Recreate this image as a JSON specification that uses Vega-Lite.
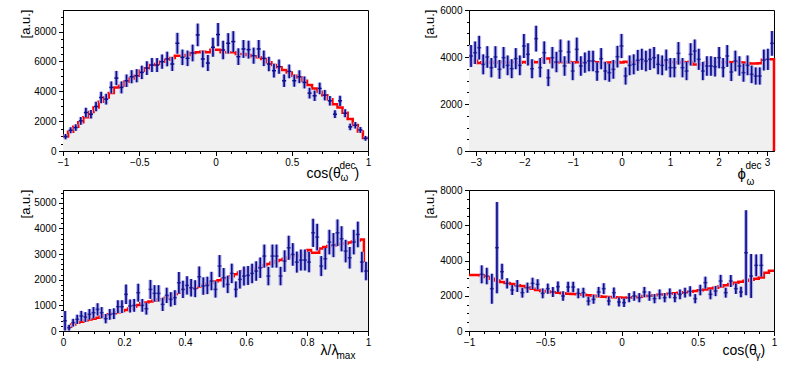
{
"$schema":"https://vega.github.io/schema/vega-lite/v6.json",
"autosize":{"type":"pad"},
"padding":{"left":18,"top":4,"right":5,"bottom":5},
"background":"white",
"config":{"view":{"stroke":"#000","strokeWidth":1},
"axis":{"labelFont":"Liberation Sans","labelFontSize":10,"labelColor":"#000","titleFont":"Liberation Sans","titleFontWeight":"normal","titleColor":"#000","tickColor":"#000","domainColor":"#000","grid":false,"labelFlush":false,"labelOverlap":false,"zindex":1,"tickWidth":1,"domainWidth":1}},
"datasets":{
"h1":[{"e":-1,"h":980},{"e":-0.96667,"h":1290},{"e":-0.93333,"h":1620},{"e":-0.9,"h":1930},{"e":-0.86667,"h":2260},{"e":-0.83333,"h":2620},{"e":-0.8,"h":2915},{"e":-0.76667,"h":3295},{"e":-0.73333,"h":3587},{"e":-0.7,"h":3880},{"e":-0.66667,"h":4260},{"e":-0.63333,"h":4372},{"e":-0.6,"h":4641},{"e":-0.56667,"h":4865},{"e":-0.53333,"h":5045},{"e":-0.5,"h":5381},{"e":-0.46667,"h":5538},{"e":-0.43333,"h":5762},{"e":-0.4,"h":5830},{"e":-0.36667,"h":5986},{"e":-0.33333,"h":6121},{"e":-0.3,"h":6233},{"e":-0.26667,"h":6390},{"e":-0.23333,"h":6390},{"e":-0.2,"h":6435},{"e":-0.16667,"h":6570},{"e":-0.13333,"h":6614},{"e":-0.1,"h":6659},{"e":-0.06667,"h":6614},{"e":-0.03333,"h":6794},{"e":0,"h":6794},{"e":0.03333,"h":6614},{"e":0.06667,"h":6614},{"e":0.1,"h":6614},{"e":0.13333,"h":6502},{"e":0.16667,"h":6502},{"e":0.2,"h":6435},{"e":0.23333,"h":6345},{"e":0.26667,"h":6278},{"e":0.3,"h":6166},{"e":0.33333,"h":5942},{"e":0.36667,"h":5762},{"e":0.4,"h":5605},{"e":0.43333,"h":5426},{"e":0.46667,"h":5269},{"e":0.5,"h":5045},{"e":0.53333,"h":4933},{"e":0.56667,"h":4708},{"e":0.6,"h":4417},{"e":0.63333,"h":4193},{"e":0.66667,"h":3969},{"e":0.7,"h":3744},{"e":0.73333,"h":3475},{"e":0.76667,"h":3139},{"e":0.8,"h":2915},{"e":0.83333,"h":2560},{"e":0.86667,"h":2150},{"e":0.9,"h":1747},{"e":0.93333,"h":1300},{"e":0.96667,"h":870},{"e":1,"h":870}],
"p1":[{"x":-0.98333,"y":964,"s":180},{"x":-0.95,"y":1390,"s":200},{"x":-0.91667,"y":1570,"s":220},{"x":-0.88333,"y":2018,"s":260},{"x":-0.85,"y":2578,"s":320},{"x":-0.81667,"y":2466,"s":290},{"x":-0.78333,"y":2982,"s":320},{"x":-0.75,"y":3587,"s":380},{"x":-0.71667,"y":3475,"s":360},{"x":-0.68333,"y":4260,"s":400},{"x":-0.65,"y":4888,"s":480},{"x":-0.61667,"y":4260,"s":400},{"x":-0.58333,"y":4708,"s":420},{"x":-0.55,"y":4978,"s":440},{"x":-0.51667,"y":5045,"s":440},{"x":-0.48333,"y":5269,"s":450},{"x":-0.45,"y":5560,"s":460},{"x":-0.41667,"y":5762,"s":470},{"x":-0.38333,"y":5762,"s":470},{"x":-0.35,"y":5986,"s":480},{"x":-0.31667,"y":6166,"s":490},{"x":-0.28333,"y":5830,"s":470},{"x":-0.25,"y":7220,"s":700},{"x":-0.21667,"y":6278,"s":520},{"x":-0.18333,"y":6211,"s":520},{"x":-0.15,"y":6570,"s":560},{"x":-0.11667,"y":7780,"s":760},{"x":-0.08333,"y":6166,"s":560},{"x":-0.05,"y":5897,"s":540},{"x":-0.01667,"y":6951,"s":640},{"x":0.01667,"y":7803,"s":780},{"x":0.05,"y":6771,"s":620},{"x":0.08333,"y":7220,"s":680},{"x":0.11667,"y":7332,"s":700},{"x":0.15,"y":6323,"s":560},{"x":0.18333,"y":6839,"s":600},{"x":0.21667,"y":6794,"s":600},{"x":0.25,"y":6390,"s":540},{"x":0.28333,"y":6839,"s":600},{"x":0.31667,"y":6211,"s":520},{"x":0.35,"y":5830,"s":480},{"x":0.38333,"y":5381,"s":460},{"x":0.41667,"y":5650,"s":480},{"x":0.45,"y":4708,"s":420},{"x":0.48333,"y":5336,"s":460},{"x":0.51667,"y":4708,"s":400},{"x":0.55,"y":4978,"s":430},{"x":0.58333,"y":4596,"s":400},{"x":0.61667,"y":3879,"s":360},{"x":0.65,"y":3700,"s":350},{"x":0.68333,"y":4193,"s":390},{"x":0.71667,"y":3744,"s":350},{"x":0.75,"y":3363,"s":320},{"x":0.78333,"y":2466,"s":260},{"x":0.81667,"y":3363,"s":340},{"x":0.85,"y":2534,"s":270},{"x":0.88333,"y":1614,"s":220},{"x":0.91667,"y":1726,"s":220},{"x":0.95,"y":1413,"s":200},{"x":0.98333,"y":850,"s":160}],
"h2":[{"e":-3.1416,"h":3760},{"e":-3.0578,"h":3860},{"e":-2.974,"h":3740},{"e":-2.8903,"h":3780},{"e":-2.8065,"h":3770},{"e":-2.7227,"h":3790},{"e":-2.6389,"h":3760},{"e":-2.5552,"h":3780},{"e":-2.4714,"h":3800},{"e":-2.3876,"h":3770},{"e":-2.3038,"h":3790},{"e":-2.2201,"h":3780},{"e":-2.1363,"h":3760},{"e":-2.0525,"h":3790},{"e":-1.9687,"h":3770},{"e":-1.885,"h":3800},{"e":-1.8012,"h":3780},{"e":-1.7174,"h":3790},{"e":-1.6336,"h":3940},{"e":-1.5499,"h":3940},{"e":-1.4661,"h":3780},{"e":-1.3823,"h":3770},{"e":-1.2985,"h":3790},{"e":-1.2148,"h":3780},{"e":-1.131,"h":3790},{"e":-1.0472,"h":3770},{"e":-0.9634,"h":3780},{"e":-0.8796,"h":3790},{"e":-0.7959,"h":3760},{"e":-0.7121,"h":3780},{"e":-0.6283,"h":3790},{"e":-0.5445,"h":3780},{"e":-0.4608,"h":3740},{"e":-0.377,"h":3750},{"e":-0.2932,"h":3770},{"e":-0.2094,"h":3780},{"e":-0.1257,"h":3790},{"e":-0.0419,"h":3770},{"e":0.0419,"h":3800},{"e":0.1257,"h":3780},{"e":0.2094,"h":3790},{"e":0.2932,"h":3780},{"e":0.377,"h":3790},{"e":0.4608,"h":3780},{"e":0.5445,"h":3770},{"e":0.6283,"h":3790},{"e":0.7121,"h":3780},{"e":0.7959,"h":3790},{"e":0.8796,"h":3780},{"e":0.9634,"h":3790},{"e":1.0472,"h":3780},{"e":1.131,"h":3770},{"e":1.2148,"h":3790},{"e":1.2985,"h":3780},{"e":1.3823,"h":3800},{"e":1.4661,"h":3680},{"e":1.5499,"h":3680},{"e":1.6336,"h":3700},{"e":1.7174,"h":3760},{"e":1.8012,"h":3780},{"e":1.885,"h":3790},{"e":1.9687,"h":3780},{"e":2.0525,"h":3770},{"e":2.1363,"h":3790},{"e":2.2201,"h":3780},{"e":2.3038,"h":3790},{"e":2.3876,"h":3780},{"e":2.4714,"h":3770},{"e":2.5552,"h":3730},{"e":2.6389,"h":3720},{"e":2.7227,"h":3720},{"e":2.8065,"h":3730},{"e":2.8903,"h":3880},{"e":2.974,"h":3900},{"e":3.0578,"h":3900},{"e":3.1416,"h":3900},{"e":3.1416,"h":0}],
"p2":[{"x":-3.0997,"y":4043,"s":465},{"x":-3.0159,"y":4184,"s":480},{"x":-2.9322,"y":4397,"s":505},{"x":-2.8484,"y":3688,"s":425},{"x":-2.7646,"y":4000,"s":460},{"x":-2.6808,"y":3546,"s":410},{"x":-2.597,"y":4000,"s":460},{"x":-2.5133,"y":3475,"s":400},{"x":-2.4295,"y":3972,"s":455},{"x":-2.3457,"y":3645,"s":420},{"x":-2.2619,"y":3504,"s":405},{"x":-2.1782,"y":3929,"s":450},{"x":-2.0944,"y":3645,"s":420},{"x":-2.0106,"y":4468,"s":515},{"x":-1.9268,"y":4113,"s":475},{"x":-1.8431,"y":3504,"s":405},{"x":-1.7593,"y":4780,"s":550},{"x":-1.6755,"y":3546,"s":410},{"x":-1.5917,"y":4184,"s":480},{"x":-1.508,"y":3120,"s":360},{"x":-1.4242,"y":3972,"s":455},{"x":-1.3404,"y":3787,"s":435},{"x":-1.2566,"y":4255,"s":490},{"x":-1.1729,"y":3617,"s":415},{"x":-1.0891,"y":4213,"s":485},{"x":-1.0053,"y":3404,"s":390},{"x":-0.9215,"y":4326,"s":500},{"x":-0.8378,"y":3617,"s":415},{"x":-0.754,"y":3759,"s":430},{"x":-0.6702,"y":3830,"s":440},{"x":-0.5864,"y":3830,"s":440},{"x":-0.5027,"y":3376,"s":390},{"x":-0.4189,"y":3929,"s":450},{"x":-0.3351,"y":3404,"s":390},{"x":-0.2513,"y":3333,"s":385},{"x":-0.1676,"y":3475,"s":400},{"x":-0.0838,"y":4014,"s":460},{"x":0,"y":4468,"s":515},{"x":0.0838,"y":3191,"s":365},{"x":0.1676,"y":3645,"s":420},{"x":0.2513,"y":3688,"s":425},{"x":0.3351,"y":3858,"s":445},{"x":0.4189,"y":3901,"s":450},{"x":0.5027,"y":3830,"s":440},{"x":0.5864,"y":3901,"s":450},{"x":0.6702,"y":3972,"s":455},{"x":0.754,"y":3688,"s":425},{"x":0.8378,"y":3645,"s":420},{"x":0.9215,"y":3872,"s":445},{"x":1.0053,"y":3546,"s":410},{"x":1.0891,"y":3546,"s":410},{"x":1.1729,"y":4156,"s":480},{"x":1.2566,"y":3546,"s":410},{"x":1.3404,"y":3404,"s":390},{"x":1.4242,"y":4113,"s":475},{"x":1.508,"y":4255,"s":490},{"x":1.5917,"y":3901,"s":450},{"x":1.6755,"y":3404,"s":390},{"x":1.7593,"y":3617,"s":415},{"x":1.8431,"y":3617,"s":415},{"x":1.9268,"y":3589,"s":415},{"x":2.0106,"y":3972,"s":455},{"x":2.0944,"y":3546,"s":410},{"x":2.1782,"y":4043,"s":465},{"x":2.2619,"y":3362,"s":385},{"x":2.3457,"y":3830,"s":440},{"x":2.4295,"y":3617,"s":415},{"x":2.5133,"y":3333,"s":385},{"x":2.597,"y":3645,"s":420},{"x":2.6808,"y":3262,"s":375},{"x":2.7646,"y":3191,"s":365},{"x":2.8484,"y":3191,"s":365},{"x":2.9322,"y":3872,"s":445},{"x":3.0159,"y":3901,"s":450},{"x":3.0997,"y":4582,"s":525}],
"h3":[{"e":0,"h":90},{"e":0.01333,"h":170},{"e":0.02667,"h":250},{"e":0.04,"h":325},{"e":0.05333,"h":365},{"e":0.06667,"h":405},{"e":0.08,"h":445},{"e":0.09333,"h":480},{"e":0.10667,"h":520},{"e":0.12,"h":565},{"e":0.13333,"h":610},{"e":0.14667,"h":650},{"e":0.16,"h":690},{"e":0.17333,"h":735},{"e":0.18667,"h":780},{"e":0.2,"h":820},{"e":0.21333,"h":880},{"e":0.22667,"h":950},{"e":0.24,"h":1010},{"e":0.25333,"h":1078},{"e":0.26667,"h":1110},{"e":0.28,"h":1150},{"e":0.29333,"h":1190},{"e":0.30667,"h":1234},{"e":0.32,"h":1234},{"e":0.33333,"h":1300},{"e":0.34667,"h":1370},{"e":0.36,"h":1440},{"e":0.37333,"h":1494},{"e":0.38667,"h":1540},{"e":0.4,"h":1600},{"e":0.41333,"h":1650},{"e":0.42667,"h":1688},{"e":0.44,"h":1740},{"e":0.45333,"h":1790},{"e":0.46667,"h":1840},{"e":0.48,"h":1883},{"e":0.49333,"h":1930},{"e":0.50667,"h":1980},{"e":0.52,"h":2030},{"e":0.53333,"h":2078},{"e":0.54667,"h":2140},{"e":0.56,"h":2210},{"e":0.57333,"h":2280},{"e":0.58667,"h":2338},{"e":0.6,"h":2380},{"e":0.61333,"h":2420},{"e":0.62667,"h":2460},{"e":0.64,"h":2506},{"e":0.65333,"h":2560},{"e":0.66667,"h":2610},{"e":0.68,"h":2670},{"e":0.69333,"h":2727},{"e":0.70667,"h":2770},{"e":0.72,"h":2820},{"e":0.73333,"h":2870},{"e":0.74667,"h":2922},{"e":0.76,"h":2930},{"e":0.77333,"h":2940},{"e":0.78667,"h":2948},{"e":0.8,"h":3156},{"e":0.81333,"h":3052},{"e":0.82667,"h":3052},{"e":0.84,"h":3220},{"e":0.85333,"h":3280},{"e":0.86667,"h":3312},{"e":0.88,"h":3340},{"e":0.89333,"h":3370},{"e":0.90667,"h":3400},{"e":0.92,"h":3415},{"e":0.93333,"h":3450},{"e":0.94667,"h":3490},{"e":0.96,"h":3530},{"e":0.97333,"h":3571},{"e":0.98667,"h":2400},{"e":1,"h":2400}],
"p3":[{"x":0.00667,"y":400,"s":380},{"x":0.02,"y":130,"s":110},{"x":0.03333,"y":325,"s":150},{"x":0.04667,"y":455,"s":180},{"x":0.06,"y":585,"s":200},{"x":0.07333,"y":545,"s":190},{"x":0.08667,"y":650,"s":210},{"x":0.1,"y":714,"s":220},{"x":0.11333,"y":844,"s":240},{"x":0.12667,"y":714,"s":220},{"x":0.14,"y":480,"s":180},{"x":0.15333,"y":650,"s":210},{"x":0.16667,"y":675,"s":210},{"x":0.18,"y":948,"s":250},{"x":0.19333,"y":948,"s":250},{"x":0.20667,"y":1429,"s":380},{"x":0.22,"y":974,"s":250},{"x":0.23333,"y":1000,"s":250},{"x":0.24667,"y":1494,"s":350},{"x":0.26,"y":1000,"s":250},{"x":0.27333,"y":870,"s":230},{"x":0.28667,"y":1623,"s":370},{"x":0.3,"y":1468,"s":320},{"x":0.31333,"y":1468,"s":320},{"x":0.32667,"y":1039,"s":260},{"x":0.34,"y":1390,"s":300},{"x":0.35333,"y":1234,"s":280},{"x":0.36667,"y":1299,"s":290},{"x":0.38,"y":1883,"s":420},{"x":0.39333,"y":1623,"s":340},{"x":0.40667,"y":1779,"s":360},{"x":0.42,"y":1688,"s":340},{"x":0.43333,"y":1650,"s":330},{"x":0.44667,"y":2117,"s":400},{"x":0.46,"y":1753,"s":340},{"x":0.47333,"y":1779,"s":340},{"x":0.48667,"y":1948,"s":360},{"x":0.5,"y":1623,"s":320},{"x":0.51333,"y":2532,"s":430},{"x":0.52667,"y":2078,"s":380},{"x":0.54,"y":1818,"s":340},{"x":0.55333,"y":2247,"s":380},{"x":0.56667,"y":1623,"s":310},{"x":0.58,"y":2013,"s":360},{"x":0.59333,"y":2143,"s":370},{"x":0.60667,"y":2169,"s":370},{"x":0.62,"y":2247,"s":380},{"x":0.63333,"y":2338,"s":380},{"x":0.64667,"y":2468,"s":400},{"x":0.66,"y":2922,"s":450},{"x":0.67333,"y":2143,"s":360},{"x":0.68667,"y":2922,"s":450},{"x":0.7,"y":2922,"s":450},{"x":0.71333,"y":2143,"s":360},{"x":0.72667,"y":2727,"s":420},{"x":0.74,"y":3247,"s":470},{"x":0.75333,"y":2987,"s":440},{"x":0.76667,"y":2688,"s":410},{"x":0.78,"y":2766,"s":410},{"x":0.79333,"y":2766,"s":410},{"x":0.80667,"y":2688,"s":400},{"x":0.82,"y":3831,"s":550},{"x":0.83333,"y":3662,"s":520},{"x":0.84667,"y":2532,"s":390},{"x":0.86,"y":2818,"s":420},{"x":0.87333,"y":3468,"s":480},{"x":0.88667,"y":3351,"s":470},{"x":0.9,"y":3831,"s":520},{"x":0.91333,"y":3597,"s":490},{"x":0.92667,"y":3117,"s":440},{"x":0.94,"y":2857,"s":420},{"x":0.95333,"y":3468,"s":480},{"x":0.96667,"y":3766,"s":500},{"x":0.98,"y":2688,"s":400},{"x":0.99333,"y":2338,"s":360}],
"h4":[{"e":-1,"h":3180},{"e":-0.96667,"h":3180},{"e":-0.93333,"h":3157},{"e":-0.9,"h":3060},{"e":-0.86667,"h":2960},{"e":-0.83333,"h":2870},{"e":-0.8,"h":2779},{"e":-0.76667,"h":2720},{"e":-0.73333,"h":2660},{"e":-0.7,"h":2600},{"e":-0.66667,"h":2552},{"e":-0.63333,"h":2480},{"e":-0.6,"h":2400},{"e":-0.56667,"h":2330},{"e":-0.53333,"h":2268},{"e":-0.5,"h":2240},{"e":-0.46667,"h":2200},{"e":-0.43333,"h":2170},{"e":-0.4,"h":2136},{"e":-0.36667,"h":2120},{"e":-0.33333,"h":2100},{"e":-0.3,"h":2080},{"e":-0.26667,"h":2060},{"e":-0.23333,"h":2030},{"e":-0.2,"h":2000},{"e":-0.16667,"h":1975},{"e":-0.13333,"h":1947},{"e":-0.1,"h":1930},{"e":-0.06667,"h":1910},{"e":-0.03333,"h":1900},{"e":0,"h":1890},{"e":0.03333,"h":1900},{"e":0.06667,"h":1920},{"e":0.1,"h":1950},{"e":0.13333,"h":1980},{"e":0.16667,"h":2000},{"e":0.2,"h":2023},{"e":0.23333,"h":2050},{"e":0.26667,"h":2080},{"e":0.3,"h":2110},{"e":0.33333,"h":2136},{"e":0.36667,"h":2170},{"e":0.4,"h":2200},{"e":0.43333,"h":2230},{"e":0.46667,"h":2268},{"e":0.5,"h":2310},{"e":0.53333,"h":2360},{"e":0.56667,"h":2410},{"e":0.6,"h":2457},{"e":0.63333,"h":2530},{"e":0.66667,"h":2600},{"e":0.7,"h":2670},{"e":0.73333,"h":2741},{"e":0.76667,"h":2800},{"e":0.8,"h":2850},{"e":0.83333,"h":2910},{"e":0.86667,"h":2968},{"e":0.9,"h":3040},{"e":0.93333,"h":3300},{"e":0.96667,"h":3420},{"e":1,"h":3420}],
"p4":[{"x":-0.91667,"y":3214,"s":510},{"x":-0.88333,"y":3119,"s":470},{"x":-0.85,"y":2401,"s":850},{"x":-0.81667,"y":4726,"s":2590},{"x":-0.78333,"y":3365,"s":450},{"x":-0.75,"y":2703,"s":290},{"x":-0.71667,"y":2325,"s":280},{"x":-0.68333,"y":2552,"s":340},{"x":-0.65,"y":2174,"s":280},{"x":-0.61667,"y":2457,"s":290},{"x":-0.58333,"y":2703,"s":320},{"x":-0.55,"y":2647,"s":290},{"x":-0.51667,"y":2136,"s":280},{"x":-0.48333,"y":2401,"s":290},{"x":-0.45,"y":2212,"s":280},{"x":-0.41667,"y":2514,"s":300},{"x":-0.38333,"y":1985,"s":270},{"x":-0.35,"y":2495,"s":300},{"x":-0.31667,"y":2495,"s":300},{"x":-0.28333,"y":2136,"s":280},{"x":-0.25,"y":2174,"s":280},{"x":-0.21667,"y":1701,"s":250},{"x":-0.18333,"y":1796,"s":250},{"x":-0.15,"y":2212,"s":290},{"x":-0.11667,"y":2401,"s":310},{"x":-0.08333,"y":1701,"s":250},{"x":-0.05,"y":2174,"s":290},{"x":-0.01667,"y":1645,"s":250},{"x":0.01667,"y":1607,"s":240},{"x":0.05,"y":1890,"s":260},{"x":0.08333,"y":1985,"s":270},{"x":0.11667,"y":1890,"s":260},{"x":0.15,"y":2212,"s":290},{"x":0.18333,"y":1985,"s":270},{"x":0.21667,"y":1834,"s":260},{"x":0.25,"y":2079,"s":280},{"x":0.28333,"y":1890,"s":260},{"x":0.31667,"y":2136,"s":280},{"x":0.35,"y":1890,"s":260},{"x":0.38333,"y":2079,"s":280},{"x":0.41667,"y":2174,"s":280},{"x":0.45,"y":2250,"s":290},{"x":0.48333,"y":1834,"s":260},{"x":0.51667,"y":2325,"s":300},{"x":0.55,"y":2741,"s":340},{"x":0.58333,"y":2079,"s":280},{"x":0.61667,"y":2268,"s":290},{"x":0.65,"y":2836,"s":350},{"x":0.68333,"y":2174,"s":280},{"x":0.71667,"y":2836,"s":340},{"x":0.75,"y":2401,"s":300},{"x":0.78333,"y":2212,"s":300},{"x":0.81667,"y":4442,"s":2410},{"x":0.85,"y":3119,"s":1250},{"x":0.88333,"y":3724,"s":620},{"x":0.91667,"y":3724,"s":640}]
},
"concat":[
{"width":305,"height":141,"resolve":{"axis":{"x":"independent","y":"independent"}},
"layer":[
{"data":{"name":"h1"},"mark":{"type":"area","interpolate":"step-after","color":"#f0f0f0"},
"encoding":{"x":{"field":"e","type":"quantitative","scale":{"domain":[-1,1],"nice":false,"zero":false},"axis":{"orient":"bottom","values":[-1,-0.5,0,0.5,1],"format":"~g","tickSize":4.5,"labelPadding":2,"title":"cos(θ","titleFontSize":14,"titleAlign":"left","titleBaseline":"alphabetic","titleX":243,"titleY":26}},
"y":{"field":"h","type":"quantitative","scale":{"domain":[0,9450],"nice":false,"zero":false},"axis":{"orient":"left","values":[0,2000,4000,6000,8000],"format":"d","tickSize":4.5,"labelPadding":2.5,"title":"[a.u.]","titleFontSize":13,"titleAngle":-90,"titleAlign":"right","titleBaseline":"bottom","titleX":-31,"titleY":-1}}}},
{"data":{"name":"h1"},"mark":{"type":"line","interpolate":"step-after","color":"#ff0000","strokeWidth":2.5},
"encoding":{"x":{"field":"e","type":"quantitative","scale":{"domain":[-1,1],"nice":false,"zero":false},"axis":null},"y":{"field":"h","type":"quantitative","scale":{"domain":[0,9450],"nice":false,"zero":false},"axis":null}}},
{"data":{"name":"p1"},"mark":{"type":"errorbar","color":"#b4b4e8","thickness":4},
"encoding":{"x":{"field":"x","type":"quantitative","scale":{"domain":[-1,1],"nice":false,"zero":false},"axis":null},"y":{"field":"y","type":"quantitative","scale":{"domain":[0,9450],"nice":false,"zero":false},"axis":null},"yError":{"field":"s"}}},
{"data":{"name":"p1"},"mark":{"type":"errorbar","color":"#0d0d8f","thickness":1.7},
"encoding":{"x":{"field":"x","type":"quantitative","scale":{"domain":[-1,1],"nice":false,"zero":false},"axis":null},"y":{"field":"y","type":"quantitative","scale":{"domain":[0,9450],"nice":false,"zero":false},"axis":null},"yError":{"field":"s"}}},
{"data":{"name":"p1"},"mark":{"type":"tick","orient":"horizontal","color":"#0d0d8f","size":4,"thickness":1.5,"opacity":1},
"encoding":{"x":{"field":"x","type":"quantitative","scale":{"domain":[-1,1],"nice":false,"zero":false},"axis":{"orient":"bottom","values":[-0.9,-0.8,-0.7,-0.6,-0.4,-0.3,-0.2,-0.1,0.1,0.2,0.3,0.4,0.6,0.7,0.8,0.9],"tickSize":2.5,"labels":false,"domain":false,"title":"dec","titleFontSize":10,"titleAlign":"left","titleBaseline":"alphabetic","titleX":276,"titleY":17}},
"y":{"field":"y","type":"quantitative","scale":{"domain":[0,9450],"nice":false,"zero":false},"axis":{"orient":"left","values":[500,1000,1500,2500,3000,3500,4500,5000,5500,6500,7000,7500,8500,9000],"tickSize":2.5,"labels":false,"domain":false,"title":null}}}},
{"data":{"name":"p1"},"mark":{"type":"point","opacity":0},
"encoding":{"x":{"field":"x","type":"quantitative","scale":{"domain":[-1,1],"nice":false,"zero":false},"axis":{"orient":"bottom","ticks":false,"labels":false,"domain":false,"title":"ω","titleFontSize":10,"titleAlign":"left","titleBaseline":"alphabetic","titleX":277,"titleY":29}},
"y":{"field":"y","type":"quantitative","scale":{"domain":[0,9450],"nice":false,"zero":false},"axis":null}}},
{"data":{"name":"p1"},"mark":{"type":"point","opacity":0},
"encoding":{"x":{"field":"x","type":"quantitative","scale":{"domain":[-1,1],"nice":false,"zero":false},"axis":{"orient":"bottom","ticks":false,"labels":false,"domain":false,"title":")","titleFontSize":14,"titleAlign":"left","titleBaseline":"alphabetic","titleX":291,"titleY":26}},
"y":{"field":"y","type":"quantitative","scale":{"domain":[0,9450],"nice":false,"zero":false},"axis":null}}}
]},
{"width":305,"height":141,"resolve":{"axis":{"x":"independent","y":"independent"}},
"layer":[
{"data":{"name":"h2"},"mark":{"type":"area","interpolate":"step-after","color":"#f0f0f0"},
"encoding":{"x":{"field":"e","type":"quantitative","scale":{"domain":[-3.14159,3.14159],"nice":false,"zero":false},"axis":{"orient":"bottom","values":[-3,-2,-1,0,1,2,3],"format":"d","tickSize":4.5,"labelPadding":2,"title":"ϕ","titleFontSize":15,"titleAlign":"left","titleBaseline":"alphabetic","titleX":268,"titleY":27}},
"y":{"field":"h","type":"quantitative","scale":{"domain":[0,6000],"nice":false,"zero":false},"axis":{"orient":"left","values":[0,2000,4000,6000],"format":"d","tickSize":4.5,"labelPadding":2.5,"title":"[a.u.]","titleFontSize":13,"titleAngle":-90,"titleAlign":"right","titleBaseline":"bottom","titleX":-33,"titleY":-1}}}},
{"data":{"name":"h2"},"mark":{"type":"line","interpolate":"step-after","color":"#ff0000","strokeWidth":2.5},
"encoding":{"x":{"field":"e","type":"quantitative","scale":{"domain":[-3.14159,3.14159],"nice":false,"zero":false},"axis":null},"y":{"field":"h","type":"quantitative","scale":{"domain":[0,6000],"nice":false,"zero":false},"axis":null}}},
{"data":{"name":"p2"},"mark":{"type":"errorbar","color":"#b4b4e8","thickness":4},
"encoding":{"x":{"field":"x","type":"quantitative","scale":{"domain":[-3.14159,3.14159],"nice":false,"zero":false},"axis":null},"y":{"field":"y","type":"quantitative","scale":{"domain":[0,6000],"nice":false,"zero":false},"axis":null},"yError":{"field":"s"}}},
{"data":{"name":"p2"},"mark":{"type":"errorbar","color":"#0d0d8f","thickness":1.7},
"encoding":{"x":{"field":"x","type":"quantitative","scale":{"domain":[-3.14159,3.14159],"nice":false,"zero":false},"axis":null},"y":{"field":"y","type":"quantitative","scale":{"domain":[0,6000],"nice":false,"zero":false},"axis":null},"yError":{"field":"s"}}},
{"data":{"name":"p2"},"mark":{"type":"tick","orient":"horizontal","color":"#0d0d8f","size":4,"thickness":1.5},
"encoding":{"x":{"field":"x","type":"quantitative","scale":{"domain":[-3.14159,3.14159],"nice":false,"zero":false},"axis":{"orient":"bottom","values":[-2.8,-2.6,-2.4,-2.2,-1.8,-1.6,-1.4,-1.2,-0.8,-0.6,-0.4,-0.2,0.2,0.4,0.6,0.8,1.2,1.4,1.6,1.8,2.2,2.4,2.6,2.8],"tickSize":2.5,"labels":false,"domain":false,"title":"dec","titleFontSize":10,"titleAlign":"left","titleBaseline":"alphabetic","titleX":276,"titleY":17}},
"y":{"field":"y","type":"quantitative","scale":{"domain":[0,6000],"nice":false,"zero":false},"axis":{"orient":"left","values":[500,1000,1500,2500,3000,3500,4500,5000,5500],"tickSize":2.5,"labels":false,"domain":false,"title":null}}}},
{"data":{"name":"p2"},"mark":{"type":"point","opacity":0},
"encoding":{"x":{"field":"x","type":"quantitative","scale":{"domain":[-3.14159,3.14159],"nice":false,"zero":false},"axis":{"orient":"bottom","ticks":false,"labels":false,"domain":false,"title":"ω","titleFontSize":10,"titleAlign":"left","titleBaseline":"alphabetic","titleX":277,"titleY":33}},
"y":{"field":"y","type":"quantitative","scale":{"domain":[0,6000],"nice":false,"zero":false},"axis":null}}}
]},
{"width":305,"height":141,"resolve":{"axis":{"x":"independent","y":"independent"}},
"layer":[
{"data":{"name":"h3"},"mark":{"type":"area","interpolate":"step-after","color":"#f0f0f0"},
"encoding":{"x":{"field":"e","type":"quantitative","scale":{"domain":[0,1],"nice":false,"zero":false},"axis":{"orient":"bottom","values":[0,0.2,0.4,0.6,0.8,1],"format":"~g","tickSize":4.5,"labelPadding":2,"title":"λ/λ","titleFontSize":14,"titleAlign":"left","titleBaseline":"alphabetic","titleX":257,"titleY":23}},
"y":{"field":"h","type":"quantitative","scale":{"domain":[0,5500],"nice":false,"zero":false},"axis":{"orient":"left","values":[0,1000,2000,3000,4000,5000],"format":"d","tickSize":4.5,"labelPadding":2.5,"title":"[a.u.]","titleFontSize":13,"titleAngle":-90,"titleAlign":"right","titleBaseline":"bottom","titleX":-31,"titleY":-1}}}},
{"data":{"name":"h3"},"mark":{"type":"line","interpolate":"step-after","color":"#ff0000","strokeWidth":2.5},
"encoding":{"x":{"field":"e","type":"quantitative","scale":{"domain":[0,1],"nice":false,"zero":false},"axis":null},"y":{"field":"h","type":"quantitative","scale":{"domain":[0,5500],"nice":false,"zero":false},"axis":null}}},
{"data":{"name":"p3"},"mark":{"type":"errorbar","color":"#b4b4e8","thickness":4},
"encoding":{"x":{"field":"x","type":"quantitative","scale":{"domain":[0,1],"nice":false,"zero":false},"axis":null},"y":{"field":"y","type":"quantitative","scale":{"domain":[0,5500],"nice":false,"zero":false},"axis":null},"yError":{"field":"s"}}},
{"data":{"name":"p3"},"mark":{"type":"errorbar","color":"#0d0d8f","thickness":1.7},
"encoding":{"x":{"field":"x","type":"quantitative","scale":{"domain":[0,1],"nice":false,"zero":false},"axis":null},"y":{"field":"y","type":"quantitative","scale":{"domain":[0,5500],"nice":false,"zero":false},"axis":null},"yError":{"field":"s"}}},
{"data":{"name":"p3"},"mark":{"type":"tick","orient":"horizontal","color":"#0d0d8f","size":4,"thickness":1.5},
"encoding":{"x":{"field":"x","type":"quantitative","scale":{"domain":[0,1],"nice":false,"zero":false},"axis":{"orient":"bottom","values":[0.05,0.1,0.15,0.25,0.3,0.35,0.45,0.5,0.55,0.65,0.7,0.75,0.85,0.9,0.95],"tickSize":2.5,"labels":false,"domain":false,"title":"max","titleFontSize":10,"titleAlign":"left","titleBaseline":"alphabetic","titleX":273,"titleY":27}},
"y":{"field":"y","type":"quantitative","scale":{"domain":[0,5500],"nice":false,"zero":false},"axis":{"orient":"left","values":[200,400,600,800,1200,1400,1600,1800,2200,2400,2600,2800,3200,3400,3600,3800,4200,4400,4600,4800,5200,5400],"tickSize":2.5,"labels":false,"domain":false,"title":null}}}}
]},
{"width":305,"height":141,"resolve":{"axis":{"x":"independent","y":"independent"}},
"layer":[
{"data":{"name":"h4"},"mark":{"type":"area","interpolate":"step-after","color":"#f0f0f0"},
"encoding":{"x":{"field":"e","type":"quantitative","scale":{"domain":[-1,1],"nice":false,"zero":false},"axis":{"orient":"bottom","values":[-1,-0.5,0,0.5,1],"format":"~g","tickSize":4.5,"labelPadding":2,"title":"cos(θ","titleFontSize":14,"titleAlign":"left","titleBaseline":"alphabetic","titleX":253,"titleY":23}},
"y":{"field":"h","type":"quantitative","scale":{"domain":[0,8000],"nice":false,"zero":false},"axis":{"orient":"left","values":[0,2000,4000,6000,8000],"format":"d","tickSize":4.5,"labelPadding":2.5,"title":"[a.u.]","titleFontSize":13,"titleAngle":-90,"titleAlign":"right","titleBaseline":"bottom","titleX":-33,"titleY":-1}}}},
{"data":{"name":"h4"},"mark":{"type":"line","interpolate":"step-after","color":"#ff0000","strokeWidth":2.5},
"encoding":{"x":{"field":"e","type":"quantitative","scale":{"domain":[-1,1],"nice":false,"zero":false},"axis":null},"y":{"field":"h","type":"quantitative","scale":{"domain":[0,8000],"nice":false,"zero":false},"axis":null}}},
{"data":{"name":"p4"},"mark":{"type":"errorbar","color":"#b4b4e8","thickness":4},
"encoding":{"x":{"field":"x","type":"quantitative","scale":{"domain":[-1,1],"nice":false,"zero":false},"axis":null},"y":{"field":"y","type":"quantitative","scale":{"domain":[0,8000],"nice":false,"zero":false},"axis":null},"yError":{"field":"s"}}},
{"data":{"name":"p4"},"mark":{"type":"errorbar","color":"#0d0d8f","thickness":1.7},
"encoding":{"x":{"field":"x","type":"quantitative","scale":{"domain":[-1,1],"nice":false,"zero":false},"axis":null},"y":{"field":"y","type":"quantitative","scale":{"domain":[0,8000],"nice":false,"zero":false},"axis":null},"yError":{"field":"s"}}},
{"data":{"name":"p4"},"mark":{"type":"tick","orient":"horizontal","color":"#0d0d8f","size":4,"thickness":1.5},
"encoding":{"x":{"field":"x","type":"quantitative","scale":{"domain":[-1,1],"nice":false,"zero":false},"axis":{"orient":"bottom","values":[-0.9,-0.8,-0.7,-0.6,-0.4,-0.3,-0.2,-0.1,0.1,0.2,0.3,0.4,0.6,0.7,0.8,0.9],"tickSize":2.5,"labels":false,"domain":false,"title":"γ","titleFontSize":10,"titleAlign":"left","titleBaseline":"alphabetic","titleX":286,"titleY":27}},
"y":{"field":"y","type":"quantitative","scale":{"domain":[0,8000],"nice":false,"zero":false},"axis":{"orient":"left","values":[500,1000,1500,2500,3000,3500,4500,5000,5500,6500,7000,7500],"tickSize":2.5,"labels":false,"domain":false,"title":null}}}},
{"data":{"name":"p4"},"mark":{"type":"point","opacity":0},
"encoding":{"x":{"field":"x","type":"quantitative","scale":{"domain":[-1,1],"nice":false,"zero":false},"axis":{"orient":"bottom","ticks":false,"labels":false,"domain":false,"title":")","titleFontSize":14,"titleAlign":"left","titleBaseline":"alphabetic","titleX":291,"titleY":23}},
"y":{"field":"y","type":"quantitative","scale":{"domain":[0,8000],"nice":false,"zero":false},"axis":null}}}
]}
],
"columns":2,
"spacing":{"row":39,"column":101},
"bounds":"flush"
}
